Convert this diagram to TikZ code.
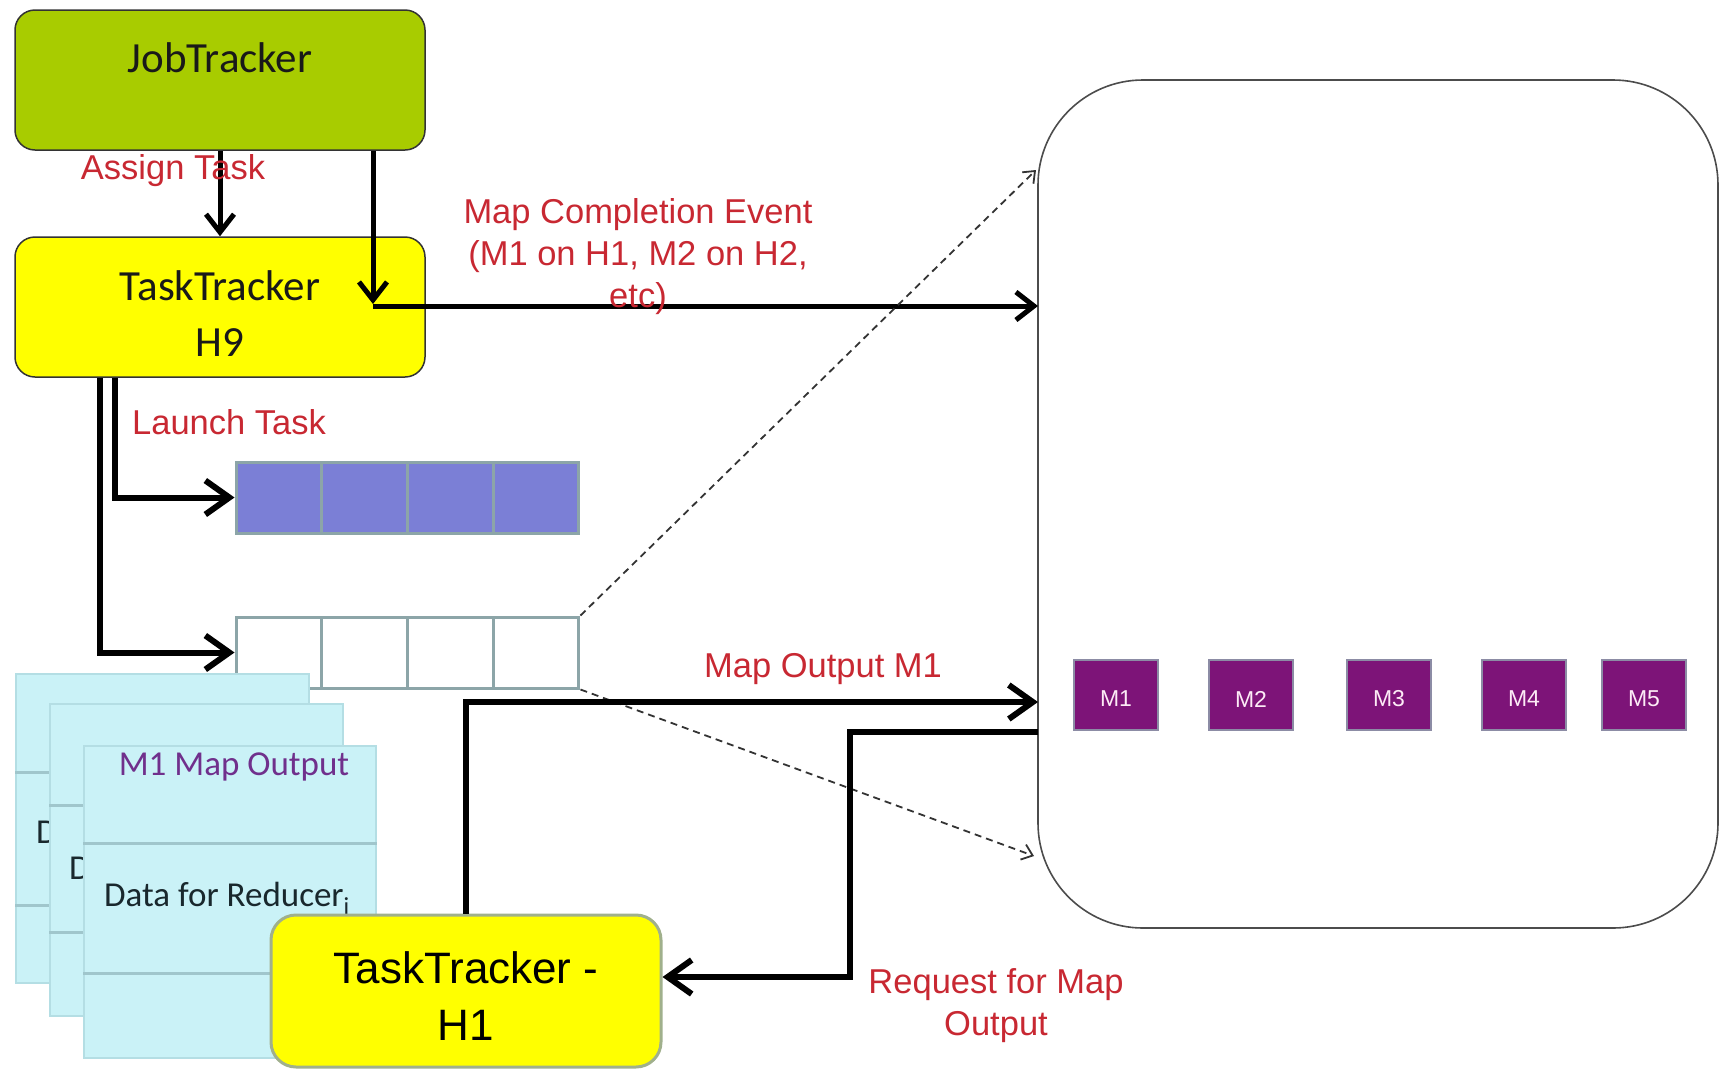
\documentclass[tikz,border=0pt]{standalone}
\usepackage{fontspec}
\setmainfont{Carlito}
\newfontfamily\arialfont{Liberation Sans}
\usetikzlibrary{arrows.meta}

\definecolor{jobgreen}{RGB}{168,204,0}
\definecolor{ttyellow}{RGB}{255,255,0}
\definecolor{labelred}{RGB}{200,40,50}
\definecolor{outpurple}{RGB}{112,48,140}
\definecolor{queueblue}{RGB}{123,127,214}
\definecolor{queueedge}{RGB}{140,165,168}
\definecolor{sheetfill}{RGB}{202,242,247}
\definecolor{sheetedge}{RGB}{180,222,228}
\definecolor{sheetline}{RGB}{160,198,204}
\definecolor{mapfill}{RGB}{125,20,120}
\definecolor{mapedge}{RGB}{140,140,165}
\definecolor{hedge}{RGB}{160,176,140}
\definecolor{darktext}{RGB}{25,40,45}

\begin{document}
\begin{tikzpicture}[x=1pt,y=-1pt,
  trackerbox/.style={draw=black!80, line width=1.5pt, rounded corners=20pt,
    minimum width=410pt, minimum height=140pt, inner sep=0pt},
  boxtext/.style={font=\fontsize{43}{56}\selectfont, align=center, inner sep=0pt, text=black!90},
  redlabel/.style={text=labelred, font=\arialfont\fontsize{34.5}{42}\selectfont,
    align=center, inner sep=0pt},
  arrowsmall/.style={line width=5pt, -{Straight Barb[length=18pt,width=28pt]}},
  arrowbig/.style={line width=6pt, -{Straight Barb[length=24pt,width=34pt]}},
  dasharrow/.style={draw=black!80, line width=1.8pt, dash pattern=on 7pt off 5pt,
    -{Straight Barb[length=10pt,width=16pt]}},
  cell/.style={draw=queueedge, line width=3pt, minimum width=85.75pt,
    minimum height=71pt, inner sep=0pt},
  mapbox/.style={fill=mapfill, draw=mapedge, line width=2.5pt, minimum width=84pt,
    minimum height=70pt, inner sep=0pt, text=white!92!magenta,
    font=\arialfont\fontsize{23}{23}\selectfont},
  sheet/.style={fill=sheetfill, draw=sheetedge, line width=1.5pt, inner sep=0pt,
    anchor=north west},
  divider/.style={draw=sheetline, line width=3pt},
  sheettext/.style={font=\fontsize{35}{40}\selectfont, inner sep=0pt}
]
\useasboundingbox (0,0) rectangle (1722,1069);

% big container on the right
\node[draw=black!70, line width=1.6pt, rounded corners=105pt, minimum width=680pt,
  minimum height=848pt, inner sep=0pt] (big) at (1378,504) {};

% map slots inside the container
\node[mapbox] (m1) at (1116,695) {};
\node[mapbox] (m2) at (1251,695) {};
\node[mapbox] (m3) at (1389,695) {};
\node[mapbox] (m4) at (1524,695) {};
\node[mapbox] (m5) at (1644,695) {};
\foreach \m in {1,...,5} {
  \node[text=white!92!magenta, font=\arialfont\fontsize{23}{23}\selectfont, inner sep=0pt]
    (m\m txt) at ([yshift=-4pt]m\m.center) {M\m};
}

% JobTracker and TaskTracker H9
\node[trackerbox, fill=jobgreen] (job) at (220,80) {};
\node[boxtext] (jobtxt) at (220,58) {JobTracker};
\node[trackerbox, fill=ttyellow] (tt9) at (220,307) {};
\node[boxtext] (tt9txt) at (220,314) {TaskTracker\\H9};

% queues of task slots
\foreach \i/\x in {a/278.9, b/364.6, c/450.4, d/536.1} {
  \node[cell, fill=queueblue] (qa\i) at (\x,497.5) {};
  \node[cell, fill=white] (qb\i) at (\x,652.5) {};
}

% Assign Task
\draw[arrowsmall] (job.south) -- (tt9.north);
\node[redlabel] (assign) at (173,171) {Assign Task};

% Map completion event towards the container
\coordinate (mcbend) at (373,306);
\coordinate (mcend) at (1038,306);
\draw[arrowsmall] (job.south -| mcbend) -- ([yshift=2pt]mcbend);
\draw[arrowsmall] (mcbend) -- (mcend);
\node[redlabel] (mclabel) at (638,257) {Map Completion Event\\(M1 on H1, M2 on H2,\\etc)};

% Launch Task
\draw[arrowbig] ([xshift=-105pt]tt9.south) |- (qaa.west);
\draw[arrowbig] ([xshift=-120pt]tt9.south) |- (qba.west);
\node[redlabel] (launch) at (229,422) {Launch Task};

% dashed projection of the slot queue
\coordinate (dtop) at (1036,170);
\coordinate (dbot) at (1034,856);
\draw[dasharrow] (qbd.north east) -- (dtop);
\draw[dasharrow] (qbd.south east) -- (dbot);

% stacked map output sheets (only the front one is fully visible)
\node[sheet, minimum width=293pt, minimum height=309pt] (sha) at (15,673) {};
\draw[divider] (sha.west |- 0,772) -- (sha.east |- 0,772);
\draw[divider] (sha.west |- 0,905) -- (sha.east |- 0,905);
\node[sheettext, anchor=west, text=darktext] (shatxt) at (36,832) {D};

\node[sheet, minimum width=293pt, minimum height=312pt] (shb) at (49,703) {};
\draw[divider] (shb.west |- 0,805) -- (shb.east |- 0,805);
\draw[divider] (shb.west |- 0,932) -- (shb.east |- 0,932);
\node[sheettext, anchor=west, text=darktext] (shbtxt) at (69,868) {D};

\node[sheet, minimum width=292pt, minimum height=312pt] (shc) at (83,745) {};
\draw[divider] (shc.west |- 0,843) -- (shc.east |- 0,843);
\draw[divider] (shc.west |- 0,973) -- (shc.east |- 0,973);
\node[sheettext, text=outpurple] (shctitle) at (234,767) {M1 Map Output};
\node[sheettext, anchor=west, text=darktext] (shctxt) at (104,898) {Data for Reducer\textsubscript{i}};

% TaskTracker H1
\node[draw=hedge, line width=3pt, fill=ttyellow, rounded corners=25pt,
  minimum width=390pt, minimum height=152pt, inner sep=0pt] (tt1) at (466,991) {};
\node[font=\arialfont\fontsize{44}{57}\selectfont, align=center, inner sep=0pt]
  (tt1txt) at (466,996) {TaskTracker -\\H1};

% map output fetch and request
\coordinate (moend) at (1038,702);
\draw[arrowbig] (tt1.north) |- (moend);
\node[redlabel] (molabel) at (823,669) {Map Output M1};

\coordinate (rqstart) at (1038,732);
\coordinate (rqbend) at (850,732);
\draw[arrowbig] (rqstart) -- (rqbend) |- ([yshift=14pt]tt1.east);
\node[redlabel] (rqlabel) at (996,1006) {Request for Map\\Output};

\end{tikzpicture}
\end{document}
